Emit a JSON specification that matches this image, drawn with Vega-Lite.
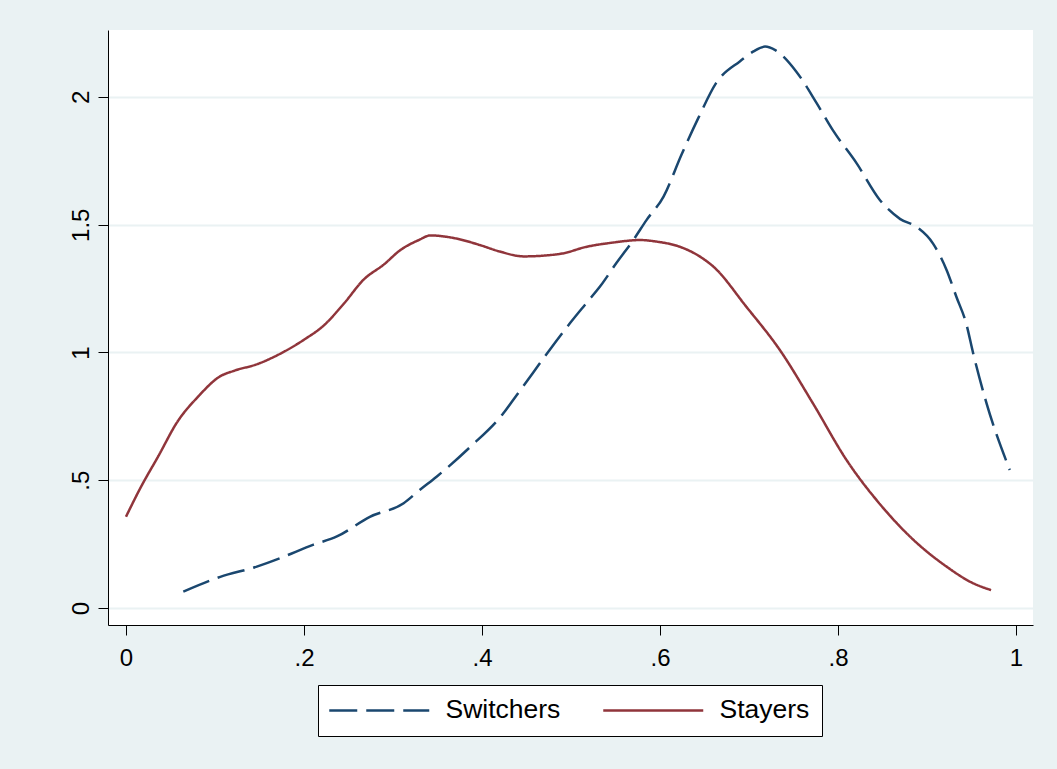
{
  "$schema": "https://vega.github.io/schema/vega-lite/v6.json",
  "width": 925,
  "height": 595,
  "autosize": {"type": "none"},
  "padding": {"left": 108, "top": 30, "right": 24, "bottom": 144},
  "background": "#EAF2F3",
  "config": {
    "view": {"fill": "white", "stroke": null},
    "font": "Liberation Sans",
    "axis": {
      "domainColor": "#000000",
      "domainWidth": 1,
      "tickColor": "#000000",
      "tickWidth": 1,
      "tickSize": 10,
      "labelFont": "Liberation Sans",
      "labelFontSize": 24,
      "labelColor": "#000000",
      "title": null
    }
  },
  "data": {
    "values": [
      {"series": "Switchers", "x": 0.0644, "y": 0.064},
      {"series": "Switchers", "x": 0.106, "y": 0.122},
      {"series": "Switchers", "x": 0.147, "y": 0.162},
      {"series": "Switchers", "x": 0.173, "y": 0.195},
      {"series": "Switchers", "x": 0.21, "y": 0.247},
      {"series": "Switchers", "x": 0.237, "y": 0.28},
      {"series": "Switchers", "x": 0.274, "y": 0.357},
      {"series": "Switchers", "x": 0.312, "y": 0.41},
      {"series": "Switchers", "x": 0.33, "y": 0.462},
      {"series": "Switchers", "x": 0.349, "y": 0.514},
      {"series": "Switchers", "x": 0.387, "y": 0.631},
      {"series": "Switchers", "x": 0.424, "y": 0.762},
      {"series": "Switchers", "x": 0.435, "y": 0.814},
      {"series": "Switchers", "x": 0.457, "y": 0.919},
      {"series": "Switchers", "x": 0.476, "y": 1.01},
      {"series": "Switchers", "x": 0.499, "y": 1.115},
      {"series": "Switchers", "x": 0.517, "y": 1.192},
      {"series": "Switchers", "x": 0.533, "y": 1.26},
      {"series": "Switchers", "x": 0.551, "y": 1.35},
      {"series": "Switchers", "x": 0.57, "y": 1.44},
      {"series": "Switchers", "x": 0.585, "y": 1.519},
      {"series": "Switchers", "x": 0.604, "y": 1.61},
      {"series": "Switchers", "x": 0.624, "y": 1.773},
      {"series": "Switchers", "x": 0.643, "y": 1.917},
      {"series": "Switchers", "x": 0.663, "y": 2.054},
      {"series": "Switchers", "x": 0.69, "y": 2.14},
      {"series": "Switchers", "x": 0.705, "y": 2.178},
      {"series": "Switchers", "x": 0.718, "y": 2.197},
      {"series": "Switchers", "x": 0.73, "y": 2.182},
      {"series": "Switchers", "x": 0.753, "y": 2.1},
      {"series": "Switchers", "x": 0.776, "y": 1.976},
      {"series": "Switchers", "x": 0.794, "y": 1.871},
      {"series": "Switchers", "x": 0.821, "y": 1.74},
      {"series": "Switchers", "x": 0.847, "y": 1.597},
      {"series": "Switchers", "x": 0.87, "y": 1.522},
      {"series": "Switchers", "x": 0.888, "y": 1.492},
      {"series": "Switchers", "x": 0.907, "y": 1.425},
      {"series": "Switchers", "x": 0.922, "y": 1.323},
      {"series": "Switchers", "x": 0.933, "y": 1.218},
      {"series": "Switchers", "x": 0.944, "y": 1.114},
      {"series": "Switchers", "x": 0.952, "y": 0.995},
      {"series": "Switchers", "x": 0.967, "y": 0.8},
      {"series": "Switchers", "x": 0.993, "y": 0.54},
      {"series": "Stayers", "x": 0.0, "y": 0.357},
      {"series": "Stayers", "x": 0.017, "y": 0.475},
      {"series": "Stayers", "x": 0.036, "y": 0.592},
      {"series": "Stayers", "x": 0.058, "y": 0.73},
      {"series": "Stayers", "x": 0.081, "y": 0.827},
      {"series": "Stayers", "x": 0.105, "y": 0.905},
      {"series": "Stayers", "x": 0.122, "y": 0.929},
      {"series": "Stayers", "x": 0.148, "y": 0.955},
      {"series": "Stayers", "x": 0.167, "y": 0.984},
      {"series": "Stayers", "x": 0.2, "y": 1.05},
      {"series": "Stayers", "x": 0.222, "y": 1.105},
      {"series": "Stayers", "x": 0.245, "y": 1.192},
      {"series": "Stayers", "x": 0.267, "y": 1.285},
      {"series": "Stayers", "x": 0.29, "y": 1.345},
      {"series": "Stayers", "x": 0.308, "y": 1.4},
      {"series": "Stayers", "x": 0.329, "y": 1.44},
      {"series": "Stayers", "x": 0.342, "y": 1.458},
      {"series": "Stayers", "x": 0.371, "y": 1.446},
      {"series": "Stayers", "x": 0.398, "y": 1.42},
      {"series": "Stayers", "x": 0.42, "y": 1.395},
      {"series": "Stayers", "x": 0.447, "y": 1.376},
      {"series": "Stayers", "x": 0.488, "y": 1.386},
      {"series": "Stayers", "x": 0.518, "y": 1.414},
      {"series": "Stayers", "x": 0.547, "y": 1.43},
      {"series": "Stayers", "x": 0.578, "y": 1.44},
      {"series": "Stayers", "x": 0.596, "y": 1.434},
      {"series": "Stayers", "x": 0.622, "y": 1.414},
      {"series": "Stayers", "x": 0.645, "y": 1.375},
      {"series": "Stayers", "x": 0.66, "y": 1.336},
      {"series": "Stayers", "x": 0.697, "y": 1.179},
      {"series": "Stayers", "x": 0.735, "y": 1.008},
      {"series": "Stayers", "x": 0.772, "y": 0.8},
      {"series": "Stayers", "x": 0.81, "y": 0.577},
      {"series": "Stayers", "x": 0.847, "y": 0.407},
      {"series": "Stayers", "x": 0.885, "y": 0.266},
      {"series": "Stayers", "x": 0.922, "y": 0.162},
      {"series": "Stayers", "x": 0.95, "y": 0.1},
      {"series": "Stayers", "x": 0.972, "y": 0.07}
    ]
  },
  "mark": {"type": "line", "strokeWidth": 2.5, "interpolate": "monotone"},
  "encoding": {
    "x": {
      "field": "x",
      "type": "quantitative",
      "scale": {"domain": [-0.0202, 1.0191], "nice": false, "zero": false},
      "axis": {
        "values": [0, 0.2, 0.4, 0.6, 0.8, 1],
        "labelExpr": "replace(format(datum.value, ''), '0.', '.')",
        "grid": false,
        "labelPadding": 11,
        "labelFlush": false
      }
    },
    "y": {
      "field": "y",
      "type": "quantitative",
      "scale": {"domain": [-0.0665, 2.262], "nice": false, "zero": false},
      "axis": {
        "values": [0, 0.5, 1, 1.5, 2],
        "labelExpr": "replace(format(datum.value, ''), '0.', '.')",
        "grid": true,
        "gridColor": "#EAF2F3",
        "gridWidth": 2,
        "labelAngle": -90,
        "labelAlign": "center",
        "labelBaseline": "alphabetic",
        "labelPadding": 10,
        "labelFlush": false
      }
    },
    "color": {
      "field": "series",
      "type": "nominal",
      "sort": ["Switchers", "Stayers"],
      "scale": {"domain": ["Switchers", "Stayers"], "range": ["#1A476F", "#90353B"]},
      "legend": {
        "title": null,
        "orient": "none",
        "legendX": 210,
        "legendY": 655,
        "direction": "horizontal",
        "columns": 2,
        "symbolType": "M-10,0H10",
        "symbolSize": 100,
        "symbolOffset": 36,
        "symbolStrokeWidth": 2.5,
        "labelFontSize": 26.5,
        "labelFont": "Liberation Sans",
        "labelColor": "#000000",
        "labelOffset": 53,
        "columnPadding": 37,
        "padding": 12,
        "strokeColor": "#000000",
        "fillColor": "#FFFFFF",
        "labelLimit": 0
      }
    },
    "strokeDash": {
      "field": "series",
      "type": "nominal",
      "sort": ["Switchers", "Stayers"],
      "scale": {"domain": ["Switchers", "Stayers"], "range": [[28, 9], [1, 0]]},
      "legend": null
    }
  }
}
